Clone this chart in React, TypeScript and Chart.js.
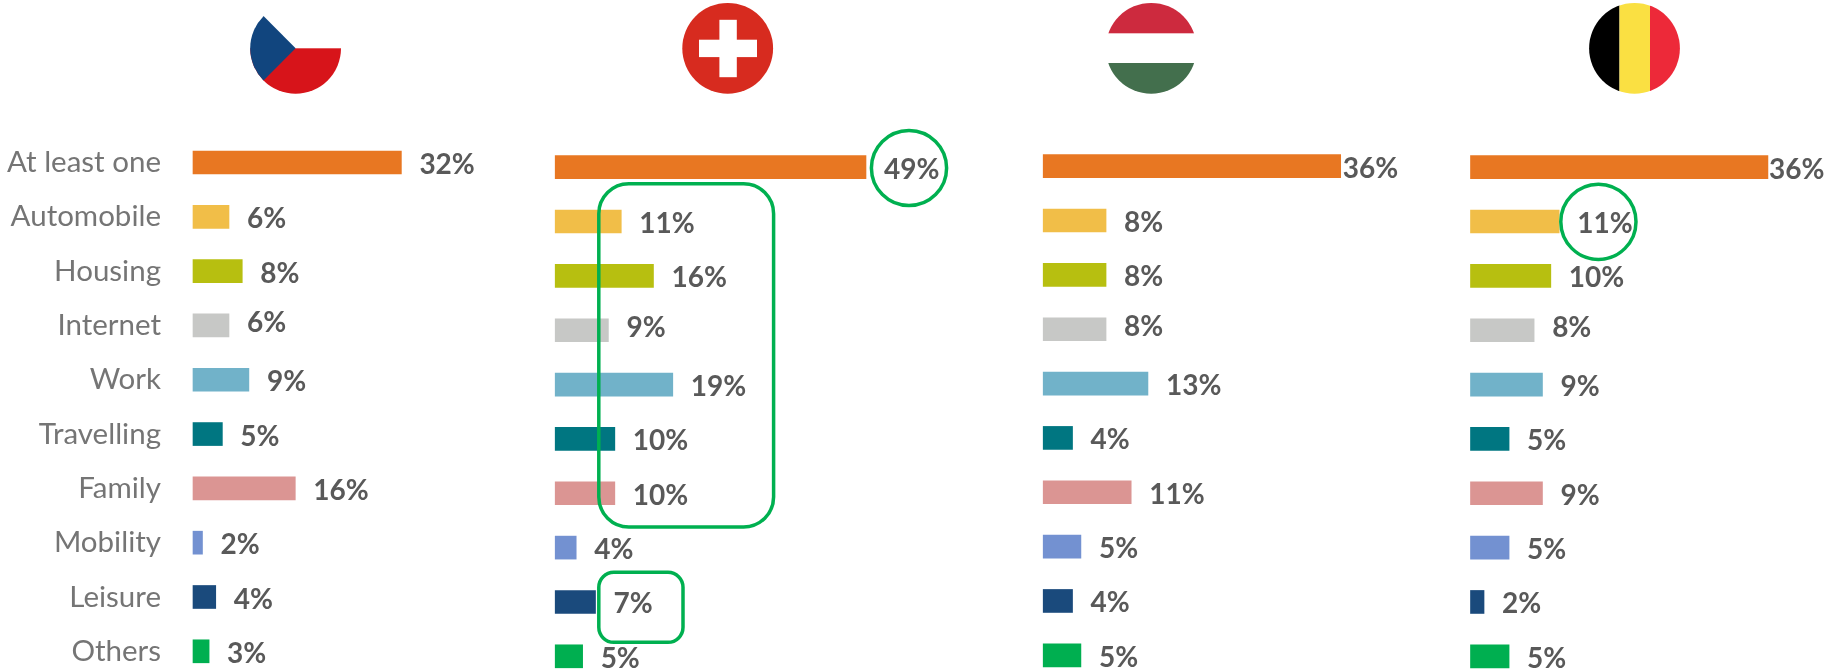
import React, { useEffect, useRef } from "react";
import { Chart, registerables } from "chart.js";

Chart.register(...registerables);

const categories = ["At least one", "Automobile", "Housing", "Internet", "Work", "Travelling", "Family", "Mobility", "Leisure", "Others"];
const czech = [32, 6, 8, 6, 9, 5, 16, 2, 4, 3];
const switzerland = [49, 11, 16, 9, 19, 10, 10, 4, 7, 5];
const hungary = [36, 8, 8, 8, 13, 4, 11, 5, 4, 5];
const belgium = [36, 11, 10, 8, 9, 5, 9, 5, 2, 5];

const barColors = ["#E87722", "#F1BE48", "#B7BF10", "#C7C8C6", "#71B2C9", "#007681", "#DB9593", "#7391D1", "#1A4A7C", "#00AF50"];

// Geometry of each small multiple, in page pixels.
const panels = [
  { name: "Czech Republic", values: czech, canvasLeft: 0, canvasWidth: 540, plotLeft: 193, firstRow: 162.5, lastRow: 651.3, axisMin: 0.57, pxPerUnit: 6.63, showCategories: true, firstGap: 18 },
  { name: "Switzerland", values: switzerland, canvasLeft: 540, canvasWidth: 490, plotLeft: 555.2, firstRow: 167.2, lastRow: 656.3, axisMin: 0.74, pxPerUnit: 6.44, showCategories: false, firstGap: 18 },
  { name: "Hungary", values: hungary, canvasLeft: 1030, canvasWidth: 430, plotLeft: 1043.2, firstRow: 166.2, lastRow: 655.3, axisMin: 0.5, pxPerUnit: 8.38, showCategories: false, firstGap: 2 },
  { name: "Belgium", values: belgium, canvasLeft: 1460, canvasWidth: 379, plotLeft: 1470.5, firstRow: 167.2, lastRow: 656.3, axisMin: 0.38, pxPerUnit: 8.35, showCategories: false, firstGap: 1 },
];

const PAGE_W = 1839;
const PAGE_H = 669;
const GREEN = "#00B050";

const valueLabelPlugin = {
  id: "valueLabels",
  afterDatasetsDraw(chart: any, _args: any, opts: any) {
    const { ctx } = chart;
    const meta = chart.getDatasetMeta(0);
    const values = chart.data.datasets[0].data as number[];
    ctx.save();
    ctx.font = "bold 28px Lato";
    ctx.fillStyle = "#595959";
    ctx.textAlign = "left";
    ctx.textBaseline = "middle";
    meta.data.forEach((bar: any, i: number) => {
      const gap = i === 0 ? opts.firstGap : 18;
      const nudge = i === 3 ? -2 : 2.5;
      ctx.fillText(`${values[i]}%`, bar.x + gap, bar.y + nudge);
    });
    ctx.restore();
  },
};

function Panel({ panel }: { panel: (typeof panels)[number] }) {
  const ref = useRef<HTMLCanvasElement | null>(null);
  useEffect(() => {
    if (!ref.current) return;
    const plotWidth = panel.canvasLeft + panel.canvasWidth - panel.plotLeft;
    const chart = new Chart(ref.current, {
      type: "bar",
      data: {
        labels: categories,
        datasets: [
          {
            label: panel.name,
            data: panel.values,
            base: panel.axisMin,
            backgroundColor: barColors,
            borderWidth: 0,
            barThickness: 23,
            clip: false as any,
          },
        ],
      },
      plugins: [valueLabelPlugin],
      options: {
        indexAxis: "y",
        animation: false,
        responsive: false,
        maintainAspectRatio: false,
        layout: {
          padding: {
            top: panel.firstRow,
            bottom: PAGE_H - panel.lastRow,
            left: panel.showCategories ? 0 : panel.plotLeft - panel.canvasLeft,
            right: 0,
          },
        },
        plugins: {
          legend: { display: false },
          title: { display: false },
          tooltip: { enabled: false },
          valueLabels: { firstGap: panel.firstGap },
        } as any,
        scales: {
          x: {
            display: false,
            min: panel.axisMin,
            max: panel.axisMin + plotWidth / panel.pxPerUnit,
          },
          y: {
            display: panel.showCategories,
            offset: false,
            grid: { display: false, drawTicks: false },
            border: { display: false },
            afterFit: (scale: any) => {
              if (panel.showCategories) {
                scale.width = panel.plotLeft - panel.canvasLeft;
                scale.paddingTop = 0;
                scale.paddingBottom = 0;
              }
            },
            ticks: {
              autoSkip: false,
              padding: 32,
              color: "#757575",
              font: { family: "Lato", size: 29.5 },
            },
          },
        },
      },
    });
    return () => chart.destroy();
  }, [panel]);
  return (
    <canvas
      ref={ref}
      width={panel.canvasWidth}
      height={PAGE_H}
      style={{ position: "absolute", left: panel.canvasLeft, top: 0, width: panel.canvasWidth, height: PAGE_H }}
    />
  );
}

function Overlay() {
  return (
    <svg
      width={PAGE_W}
      height={PAGE_H}
      viewBox={`0 0 ${PAGE_W} ${PAGE_H}`}
      style={{ position: "absolute", left: 0, top: 0, pointerEvents: "none" }}
    >
      <defs>
        <clipPath id="cz"><circle cx={295.6} cy={48.3} r={45.4} /></clipPath>
        <clipPath id="hu"><circle cx={1151.2} cy={48.3} r={45.4} /></clipPath>
        <clipPath id="be"><circle cx={1634.5} cy={48.3} r={45.4} /></clipPath>
      </defs>

      <g clipPath="url(#cz)">
        <rect x={245} y={48.3} width={100} height={50} fill="#D7141A" />
        <polygon points="295.6,48.3 263.5,16 240,16 240,80.4 263.5,80.4" fill="#11457E" />
      </g>

      <circle cx={727.7} cy={48.3} r={45.4} fill="#D72B1F" />
      <rect x={699} y={39.7} width={58} height={17.4} fill="#FFFFFF" />
      <rect x={719.4} y={19.8} width={17.4} height={57.4} fill="#FFFFFF" />

      <g clipPath="url(#hu)">
        <rect x={1100} y={0} width={102} height={33.3} fill="#CD2A3E" />
        <rect x={1100} y={63} width={102} height={35} fill="#436F4D" />
      </g>

      <g clipPath="url(#be)">
        <rect x={1585} y={0} width={34.5} height={98} fill="#000000" />
        <rect x={1619.5} y={0} width={30.5} height={98} fill="#FAE042" />
        <rect x={1650} y={0} width={34} height={98} fill="#ED2939" />
      </g>

      <g fill="none" stroke={GREEN} strokeWidth={3.5}>
        <ellipse cx={909} cy={168} rx={37.6} ry={37.6} />
        <ellipse cx={1598.4} cy={221.8} rx={37.6} ry={37.6} />
        <rect x={598.8} y={183.7} width={174.8} height={343.3} rx={30} ry={30} />
        <rect x={598.8} y={572.3} width={84.2} height={70} rx={15} ry={15} />
      </g>
    </svg>
  );
}

export default function App() {
  return (
    <div style={{ position: "absolute", left: 0, top: 0, width: PAGE_W, height: PAGE_H, background: "#FFFFFF", overflow: "hidden" }}>
      {panels.map((p) => (
        <Panel key={p.name} panel={p} />
      ))}
      <Overlay />
    </div>
  );
}
